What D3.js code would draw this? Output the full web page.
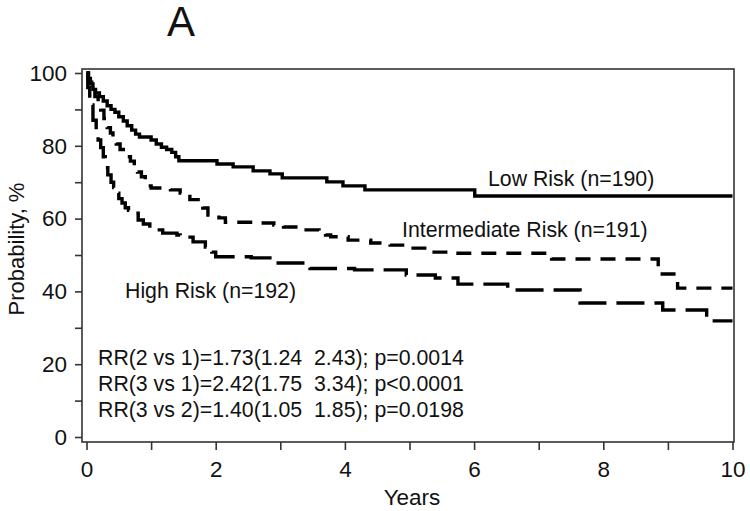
<!DOCTYPE html>
<html>
<head>
<meta charset="utf-8">
<script src="https://cdn.jsdelivr.net/npm/d3@7"></script>
<style>
html,body{margin:0;padding:0;background:#fff;}
svg{display:block;font-family:"Liberation Sans",Arial,sans-serif;}
text{fill:#111;}
</style>
</head>
<body>
<svg id="chart" width="750" height="511"></svg>
<script>
// ---- data (time in years, survival probability in %) ----
const lowRisk = [[0,100],[0.03,98.5],[0.06,97],[0.1,95.5],[0.14,94.5],[0.2,93.5],[0.26,92.3],[0.32,91],[0.38,90],[0.44,89.2],[0.5,88],[0.57,86.8],[0.63,85.5],[0.7,84.3],[0.76,83.2],[0.82,82.4],[1.0,81.6],[1.08,80.5],[1.16,79.6],[1.24,79],[1.32,78.2],[1.38,77],[1.43,75.9],[2.02,75.0],[2.27,74.2],[2.58,73.1],[2.84,72.3],[3.03,71.2],[3.72,70.1],[3.97,69.0],[4.31,67.9],[6.01,66.2],[10,66.2]];
const intermediateRisk = [[0,100],[0.03,97.5],[0.08,95.5],[0.13,93.5],[0.18,91.5],[0.22,89.8],[0.27,87.5],[0.32,85],[0.37,83.5],[0.41,82],[0.46,80.5],[0.52,79],[0.57,78],[0.62,77],[0.68,75.8],[0.74,74.6],[0.79,72.8],[0.85,71.5],[0.91,70.4],[0.96,69],[1.0,68.4],[1.3,67.9],[1.45,67],[1.6,65.2],[1.76,64.3],[1.8,62.9],[1.88,61],[2.05,60.2],[2.15,59],[2.7,58.8],[2.9,58.2],[3.05,57.7],[3.3,57.4],[3.4,56.9],[3.6,56.3],[3.7,55.5],[3.78,55.0],[4.05,54.1],[4.4,53.3],[4.7,52.7],[5.0,51.9],[5.35,50.8],[5.7,50.5],[7.2,48.9],[8.85,44.8],[9.15,40.9],[10,40.9]];
const highRisk = [[0,100],[0.02,96],[0.05,91.2],[0.1,87],[0.15,84],[0.18,81.6],[0.22,79.5],[0.26,77],[0.29,74],[0.33,72],[0.38,70],[0.42,68.5],[0.46,67],[0.5,65.5],[0.55,64.3],[0.6,63],[0.65,62.3],[0.75,61.5],[0.8,59.6],[0.88,58.5],[0.98,57.5],[1.06,56.9],[1.18,56],[1.4,55.5],[1.45,54.9],[1.65,53.6],[1.84,52.2],[1.94,50.8],[2.0,49.5],[2.55,49.2],[2.87,48.6],[2.93,47.8],[3.46,46.3],[4.15,45.9],[4.95,44.5],[5.4,43.7],[5.75,42.0],[6.52,40.4],[7.64,36.8],[8.92,34.9],[9.6,31.9],[10,31.9]];

const seriesNames = ["Low Risk (n=190)","Intermediate Risk (n=191)","High Risk (n=192)"];
const xTickValues = [0,1,2,3,4,5,6,7,8,9,10];
const xTickLabels = ["0","","2","","4","","6","","8","","10"];
const yTickValues = [0,10,20,30,40,50,60,70,80,90,100];
const yTickLabels = ["0","","20","","40","","60","","80","","100"];
const statLines = [
  "RR(2 vs 1)=1.73(1.24  2.43); p=0.0014",
  "RR(3 vs 1)=2.42(1.75  3.34); p<0.0001",
  "RR(3 vs 2)=1.40(1.05  1.85); p=0.0198"
];
const panelTitle = "A";
const xTitle = "Years";
const yTitle = "Probability, %";

// ---- layout ----
const svg = d3.select("#chart");
const frame = {left:82, top:69, right:734, bottom:442};
const x = d3.scaleLinear().domain([0,10]).range([86.5,732.5]);
const y = d3.scaleLinear().domain([0,100]).range([437,73]);

// frame
svg.append("rect")
  .attr("x",frame.left).attr("y",frame.top)
  .attr("width",frame.right-frame.left).attr("height",frame.bottom-frame.top)
  .attr("fill","none").attr("stroke","#333").attr("stroke-width",1.6);

// x axis
const xAxis = d3.axisBottom(x).tickValues(xTickValues)
  .tickFormat((d,i)=>xTickLabels[i]).tickSize(8).tickSizeOuter(0).tickPadding(11);
const gx = svg.append("g").attr("transform",`translate(0,${frame.bottom})`).call(xAxis);
gx.select(".domain").remove();
gx.selectAll(".tick line").attr("stroke","#333").attr("stroke-width",1.6);
gx.selectAll(".tick text").attr("font-size",22.5).attr("fill","#111");

// y axis
const yAxis = d3.axisLeft(y).tickValues(yTickValues)
  .tickFormat((d,i)=>yTickLabels[i]).tickSize(7).tickSizeOuter(0).tickPadding(8);
const gy = svg.append("g").attr("transform",`translate(${frame.left},0)`).call(yAxis);
gy.select(".domain").remove();
gy.selectAll(".tick line").attr("stroke","#333").attr("stroke-width",1.6);
gy.selectAll(".tick text").attr("font-size",22.5).attr("fill","#111");

// curves
const line = d3.line().x(d=>x(d[0])).y(d=>y(d[1])).curve(d3.curveStepAfter);
const series = [
  {data:lowRisk, dash:null},
  {data:intermediateRisk, dash:"15,10"},
  {data:highRisk, dash:"28,10"}
];
svg.append("g").selectAll("path").data(series).join("path")
  .attr("d",d=>line(d.data))
  .attr("fill","none").attr("stroke","#000").attr("stroke-width",3.4)
  .attr("stroke-linejoin","miter")
  .attr("stroke-dasharray",d=>d.dash);

// series labels
const labelPos = [[488,186],[402,237],[125,298]];
svg.append("g").selectAll("text").data(seriesNames).join("text")
  .attr("x",(d,i)=>labelPos[i][0]).attr("y",(d,i)=>labelPos[i][1])
  .attr("font-size",21.3).text(d=>d);

// stats
svg.append("g").selectAll("text").data(statLines).join("text")
  .attr("x",98).attr("y",(d,i)=>364.5+i*26.2)
  .attr("font-size",21.3).style("white-space","pre").text(d=>d);

// titles
svg.append("text").attr("x",181).attr("y",36).attr("text-anchor","middle")
  .attr("font-size",42).text(panelTitle);
svg.append("text").attr("x",412).attr("y",505).attr("text-anchor","middle")
  .attr("font-size",22.5).text(xTitle);
svg.append("text").attr("transform","translate(24,249) rotate(-90)")
  .attr("text-anchor","middle").attr("font-size",22).text(yTitle);
</script>
</body>
</html>
